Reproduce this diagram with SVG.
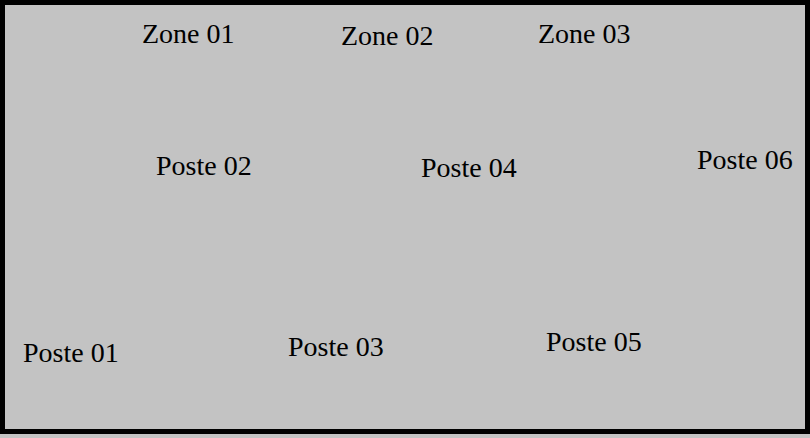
<svg xmlns="http://www.w3.org/2000/svg" width="810" height="438" viewBox="0 0 810 438">
<style>
.lbl{font-family:"Liberation Serif","Times New Roman",serif;font-size:28px;fill:#000}
</style>
<rect x="0" y="0" width="810" height="438" fill="#c3c3c3"/>
<rect x="2.5" y="2.5" width="805" height="429" fill="#c3c3c3" stroke="#000" stroke-width="5"/>
<g id="zone01"><text class="lbl" x="142" y="43">Zone 01</text></g>
<g id="zone02"><text class="lbl" x="341" y="45">Zone 02</text></g>
<g id="zone03"><text class="lbl" x="538" y="43">Zone 03</text></g>
<g id="poste02"><text class="lbl" x="156" y="175">Poste 02</text></g>
<g id="poste04"><text class="lbl" x="421" y="177">Poste 04</text></g>
<g id="poste06"><text class="lbl" x="697" y="169">Poste 06</text></g>
<g id="poste01"><text class="lbl" x="23" y="362">Poste 01</text></g>
<g id="poste03"><text class="lbl" x="288" y="356">Poste 03</text></g>
<g id="poste05"><text class="lbl" x="546" y="351">Poste 05</text></g>
<g id="connectors"></g>
</svg>
